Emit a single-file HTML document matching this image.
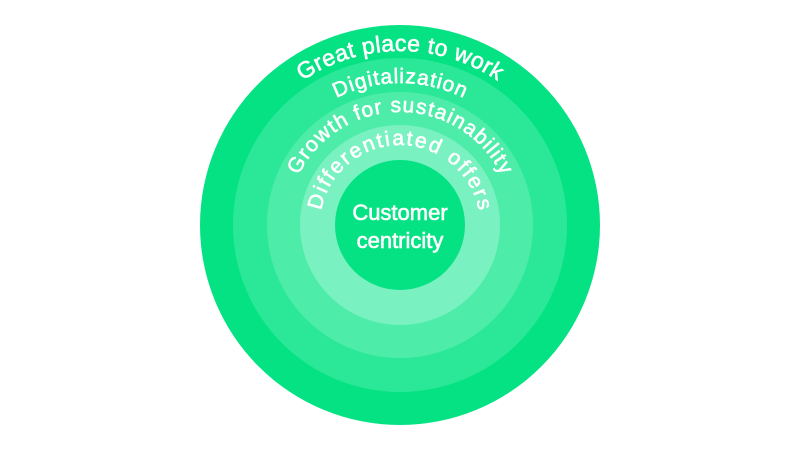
<!DOCTYPE html>
<html><head><meta charset="utf-8"><style>
html,body{margin:0;padding:0;background:#fff;}
svg{display:block;}
text{font-family:"Liberation Sans",sans-serif;fill:#fff;stroke:#fff;stroke-width:0.6;}
</style></head><body>
<svg width="800" height="450" viewBox="0 0 800 450" xmlns="http://www.w3.org/2000/svg">
<defs>
<path id="a1" d="M226,225 A174,174 0 0 1 574,225"/>
<path id="a2" d="M258,225 A142,142 0 0 1 542,225"/>
<path id="a3" d="M287,225 A113,113 0 0 1 513,225"/>
<path id="a4" d="M320,225 A80,80 0 0 1 480,225"/>
</defs>
<circle cx="400" cy="225" r="200" fill="#05e283"/>
<circle cx="400" cy="225" r="167" fill="#2ae897"/>
<circle cx="400" cy="225" r="133" fill="#4deca8"/>
<circle cx="400" cy="225" r="100" fill="#7af1c1"/>
<circle cx="400" cy="225" r="65" fill="#05e283"/>
<text font-size="23"><textPath href="#a1" startOffset="50%" text-anchor="middle" textLength="207" lengthAdjust="spacing">Great place to work</textPath></text>
<text font-size="21"><textPath href="#a2" startOffset="50%" text-anchor="middle" textLength="132" lengthAdjust="spacing">Digitalization</textPath></text>
<text font-size="21"><textPath href="#a3" startOffset="50%" text-anchor="middle" textLength="252" lengthAdjust="spacing">Growth for sustainability</textPath></text>
<text font-size="21"><textPath href="#a4" startOffset="50%" text-anchor="middle" textLength="222" lengthAdjust="spacing">Differentiated offers</textPath></text>
<text x="400" y="220" font-size="22" text-anchor="middle">Customer</text>
<text x="400" y="248" font-size="22" text-anchor="middle">centricity</text>
</svg>
</body></html>
